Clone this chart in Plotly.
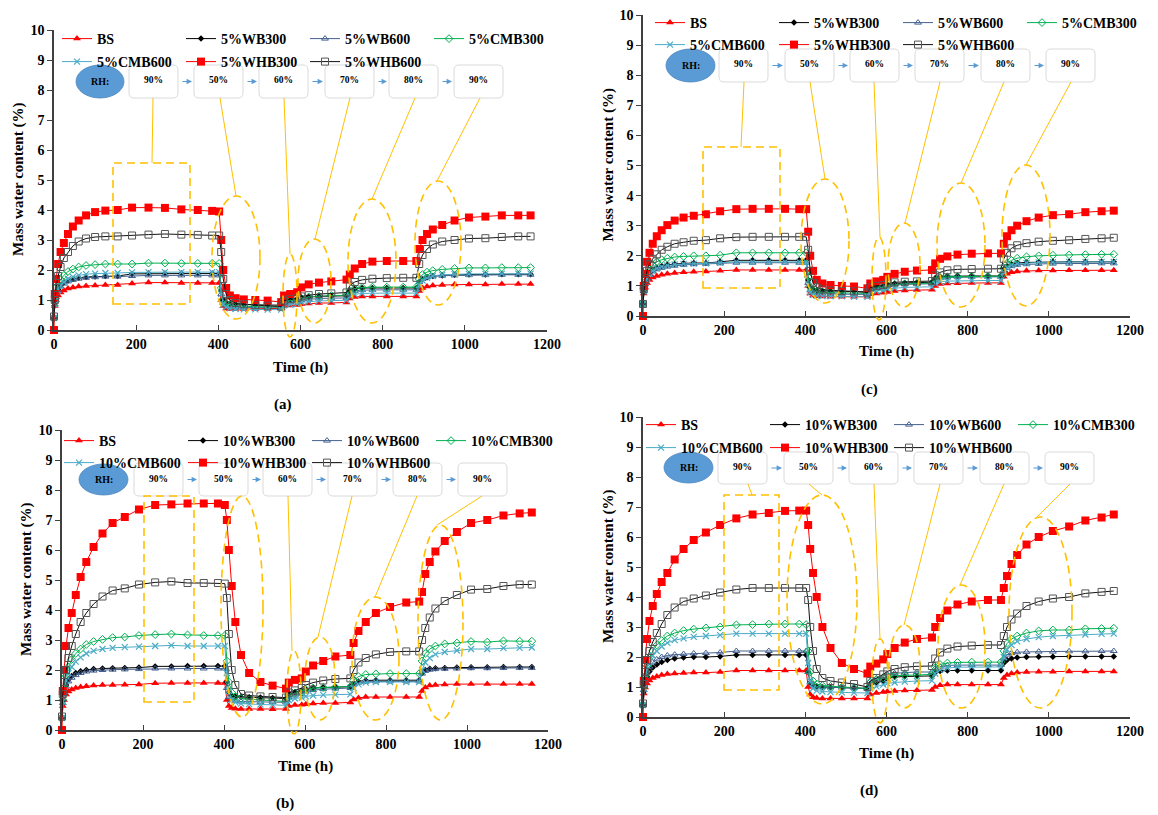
import plotly.graph_objects as go

W, H = 1158, 815

# ---------------- data ----------------
t = [0, 2, 5, 10, 16, 24, 34, 46, 60, 78, 100, 125, 155, 190, 230, 270, 310, 350, 385, 402,
     407, 412, 419, 428, 442, 462, 490, 520, 553,
     560, 575, 592,
     602, 620, 645, 675, 712,
     720, 732, 750, 775, 810, 850, 882,
     889, 897, 908, 922, 945, 975, 1010, 1050, 1090, 1130, 1160]

# panel (a) 5%
a_BS = [0.4, 0.8, 1.0, 1.15, 1.25, 1.32, 1.38, 1.42, 1.45, 1.47, 1.48, 1.5, 1.5, 1.55, 1.58, 1.58, 1.57, 1.57, 1.57, 1.57,
        1.0, 0.8, 0.72, 0.7, 0.7, 0.7, 0.7, 0.7, 0.72,
        0.8, 0.82, 0.83,
        0.86, 0.88, 0.9, 0.9, 0.92,
        1.05, 1.1, 1.12, 1.12, 1.12, 1.12, 1.12,
        1.3, 1.4, 1.45, 1.48, 1.5, 1.52, 1.52, 1.52, 1.53, 1.53, 1.53]
a_WB300 = [0.4, 0.9, 1.15, 1.35, 1.48, 1.58, 1.65, 1.7, 1.74, 1.77, 1.78, 1.8, 1.8, 1.87, 1.88, 1.88, 1.88, 1.88, 1.88, 1.88,
           1.3, 1.0, 0.92, 0.88, 0.86, 0.85, 0.84, 0.83, 0.83,
           1.0, 1.02, 1.04,
           1.08, 1.1, 1.12, 1.13, 1.14,
           1.3, 1.37, 1.4, 1.4, 1.4, 1.4, 1.4,
           1.6, 1.7, 1.76, 1.8, 1.82, 1.84, 1.85, 1.85, 1.86, 1.86, 1.86]
a_WB600 = [0.4, 0.85, 1.1, 1.3, 1.45, 1.55, 1.62, 1.67, 1.71, 1.74, 1.76, 1.78, 1.78, 1.8, 1.82, 1.82, 1.82, 1.82, 1.82, 1.82,
           1.2, 0.9, 0.82, 0.78, 0.76, 0.75, 0.74, 0.74, 0.74,
           0.9, 0.93, 0.95,
           1.0, 1.03, 1.05, 1.06, 1.07,
           1.22, 1.3, 1.33, 1.34, 1.34, 1.34, 1.34,
           1.6, 1.7, 1.76, 1.79, 1.81, 1.82, 1.83, 1.83, 1.84, 1.84, 1.84]
a_CMB300 = [0.4, 0.95, 1.25, 1.5, 1.68, 1.82, 1.95, 2.03, 2.1, 2.15, 2.18, 2.2, 2.2, 2.2, 2.23, 2.23, 2.22, 2.22, 2.22, 2.22,
            1.4, 1.0, 0.88, 0.83, 0.8, 0.79, 0.78, 0.77, 0.77,
            0.95, 0.98, 1.0,
            1.06, 1.1, 1.13, 1.15, 1.16,
            1.3, 1.38, 1.42, 1.43, 1.43, 1.43, 1.43,
            1.7, 1.85, 1.93, 1.98, 2.02, 2.05, 2.07, 2.07, 2.08, 2.08, 2.08]
a_CMB600 = [0.4, 0.85, 1.1, 1.32, 1.48, 1.6, 1.7, 1.77, 1.82, 1.86, 1.88, 1.9, 1.9, 1.92, 1.93, 1.93, 1.93, 1.93, 1.93, 1.93,
            1.2, 0.85, 0.76, 0.72, 0.7, 0.69, 0.69, 0.68, 0.68,
            0.82, 0.85, 0.87,
            0.92, 0.95, 0.97, 0.98, 0.99,
            1.12, 1.19, 1.22, 1.23, 1.23, 1.23, 1.23,
            1.5, 1.65, 1.74, 1.8, 1.84, 1.86, 1.87, 1.87, 1.88, 1.88, 1.88]
a_WHB300 = [0.0, 1.2, 1.7, 2.2, 2.6, 2.9, 3.2, 3.45, 3.65, 3.82, 3.93, 3.98, 4.0, 4.08, 4.08, 4.07, 4.02, 4.0, 3.97, 3.95,
            3.0, 2.0, 1.4, 1.15, 1.06, 1.02, 1.0, 0.98, 0.93,
            1.15, 1.2, 1.26,
            1.42, 1.52, 1.58, 1.62, 1.68,
            1.85, 2.05, 2.2, 2.28, 2.3, 2.3, 2.3,
            2.7, 3.0, 3.2, 3.35, 3.5, 3.65, 3.75, 3.78, 3.82, 3.82, 3.82]
a_WHB600 = [0.45, 1.0, 1.4, 1.8, 2.1, 2.4, 2.6, 2.8, 2.95, 3.05, 3.1, 3.12, 3.12, 3.15, 3.18, 3.2, 3.18, 3.17, 3.15, 3.15,
            2.6, 1.7, 1.2, 1.0, 0.9, 0.86, 0.83, 0.81, 0.78,
            0.98, 1.03, 1.06,
            1.12, 1.16, 1.2, 1.22, 1.25,
            1.48, 1.6, 1.67, 1.71, 1.73, 1.74, 1.74,
            2.2, 2.5, 2.7, 2.85, 2.95, 3.0, 3.05, 3.06, 3.1, 3.12, 3.12]

# panel (c) 5%
c_BS = [0.4, 0.75, 0.95, 1.1, 1.2, 1.28, 1.33, 1.37, 1.4, 1.43, 1.45, 1.47, 1.48, 1.5, 1.53, 1.53, 1.53, 1.53, 1.53, 1.53,
        1.0, 0.75, 0.68, 0.66, 0.65, 0.64, 0.64, 0.64, 0.64,
        0.72, 0.75, 0.77,
        0.8, 0.83, 0.85, 0.86, 0.87,
        1.0, 1.06, 1.08, 1.09, 1.1, 1.1, 1.1,
        1.3, 1.4, 1.45, 1.48, 1.5, 1.51, 1.51, 1.52, 1.52, 1.52, 1.52]
c_WB300 = [0.4, 0.85, 1.1, 1.3, 1.43, 1.53, 1.6, 1.66, 1.7, 1.73, 1.75, 1.76, 1.76, 1.8, 1.85, 1.85, 1.85, 1.85, 1.85, 1.85,
           1.2, 0.95, 0.88, 0.85, 0.84, 0.83, 0.82, 0.82, 0.8,
           0.95, 0.98, 1.0,
           1.05, 1.08, 1.1, 1.11, 1.12,
           1.25, 1.3, 1.32, 1.33, 1.33, 1.33, 1.33,
           1.55, 1.65, 1.72, 1.76, 1.78, 1.79, 1.8, 1.8, 1.8, 1.8, 1.8]
c_WB600 = [0.4, 0.82, 1.05, 1.25, 1.38, 1.48, 1.55, 1.6, 1.64, 1.67, 1.7, 1.72, 1.73, 1.75, 1.77, 1.77, 1.77, 1.77, 1.77, 1.77,
           1.1, 0.85, 0.78, 0.75, 0.74, 0.73, 0.72, 0.72, 0.72,
           0.88, 0.9, 0.92,
           0.98, 1.02, 1.05, 1.06, 1.07,
           1.2, 1.26, 1.28, 1.29, 1.3, 1.3, 1.3,
           1.5, 1.6, 1.66, 1.7, 1.72, 1.73, 1.74, 1.74, 1.75, 1.75, 1.75]
c_CMB300 = [0.4, 0.9, 1.2, 1.42, 1.58, 1.7, 1.8, 1.87, 1.92, 1.96, 1.98, 2.0, 2.0, 2.02, 2.1, 2.1, 2.1, 2.1, 2.1, 2.1,
            1.3, 0.95, 0.85, 0.8, 0.78, 0.77, 0.76, 0.76, 0.75,
            0.9, 0.93, 0.95,
            1.0, 1.04, 1.07, 1.08, 1.09,
            1.22, 1.28, 1.3, 1.31, 1.32, 1.32, 1.32,
            1.6, 1.75, 1.85, 1.92, 1.97, 2.0, 2.02, 2.03, 2.04, 2.05, 2.05]
c_CMB600 = [0.4, 0.82, 1.05, 1.25, 1.4, 1.5, 1.58, 1.64, 1.68, 1.71, 1.73, 1.74, 1.75, 1.77, 1.8, 1.8, 1.8, 1.8, 1.8, 1.8,
            1.05, 0.78, 0.7, 0.67, 0.66, 0.65, 0.65, 0.64, 0.64,
            0.8, 0.83, 0.85,
            0.9, 0.93, 0.95, 0.96, 0.97,
            1.08, 1.14, 1.16, 1.17, 1.18, 1.18, 1.18,
            1.45, 1.6, 1.68, 1.73, 1.76, 1.78, 1.79, 1.8, 1.8, 1.8, 1.8]
c_WHB300 = [0.0, 1.0, 1.4, 1.8, 2.1, 2.4, 2.65, 2.85, 3.02, 3.17, 3.27, 3.33, 3.38, 3.48, 3.55, 3.56, 3.56, 3.56, 3.55, 3.55,
            2.8, 2.0, 1.5, 1.2, 1.08, 1.03, 1.0, 0.98, 0.92,
            1.08, 1.15, 1.2,
            1.3, 1.4, 1.47, 1.51, 1.53,
            1.75, 1.9, 1.98, 2.04, 2.07, 2.08, 2.08,
            2.4, 2.65, 2.85, 3.0, 3.15, 3.27, 3.35, 3.38, 3.45, 3.48, 3.5]
c_WHB600 = [0.4, 0.9, 1.2, 1.5, 1.72, 1.9, 2.05, 2.2, 2.3, 2.4, 2.45, 2.5, 2.52, 2.58, 2.62, 2.63, 2.63, 2.63, 2.63, 2.63,
            2.2, 1.5, 1.1, 0.95, 0.88, 0.85, 0.83, 0.82, 0.78,
            0.95, 1.0, 1.03,
            1.08, 1.12, 1.14, 1.15, 1.16,
            1.35, 1.45, 1.52, 1.55, 1.56, 1.57, 1.57,
            1.9, 2.1, 2.25, 2.35, 2.42, 2.47, 2.5, 2.52, 2.56, 2.58, 2.6]

# panel (b) 10%
b_BS = [0.4, 0.8, 1.0, 1.18, 1.28, 1.35, 1.4, 1.43, 1.46, 1.48, 1.5, 1.5, 1.51, 1.52, 1.56, 1.57, 1.57, 1.57, 1.57, 1.57,
        1.0, 0.8, 0.73, 0.71, 0.7, 0.7, 0.7, 0.69, 0.7,
        0.8, 0.83, 0.84,
        0.86, 0.88, 0.9, 0.9, 0.92,
        1.02, 1.07, 1.1, 1.1, 1.1, 1.1, 1.1,
        1.3, 1.42, 1.48, 1.5, 1.52, 1.53, 1.53, 1.53, 1.53, 1.53, 1.53]
b_WB300 = [0.4, 0.95, 1.25, 1.5, 1.68, 1.8, 1.9, 1.96, 2.0, 2.03, 2.05, 2.06, 2.07, 2.08, 2.12, 2.12, 2.13, 2.13, 2.13, 2.13,
           1.6, 1.25, 1.15, 1.12, 1.1, 1.09, 1.08, 1.07, 1.05,
           1.22, 1.27, 1.3,
           1.36, 1.4, 1.42, 1.43, 1.44,
           1.55, 1.62, 1.65, 1.66, 1.66, 1.66, 1.66,
           1.9, 2.0, 2.04, 2.06, 2.07, 2.08, 2.09, 2.09, 2.1, 2.1, 2.1]
b_WB600 = [0.4, 0.9, 1.2, 1.45, 1.62, 1.74, 1.83, 1.9, 1.95, 1.98, 2.0, 2.01, 2.02, 2.03, 2.05, 2.05, 2.05, 2.05, 2.05, 2.05,
           1.4, 1.1, 1.0, 0.97, 0.95, 0.94, 0.93, 0.93, 0.92,
           1.1, 1.15, 1.2,
           1.28, 1.33, 1.36, 1.38, 1.4,
           1.52, 1.58, 1.61, 1.62, 1.62, 1.62, 1.62,
           1.88, 1.97, 2.01, 2.03, 2.04, 2.05, 2.06, 2.06, 2.07, 2.07, 2.07]
b_CMB300 = [0.4, 1.0, 1.4, 1.8, 2.1, 2.35, 2.55, 2.7, 2.85, 2.95, 3.02, 3.08, 3.1, 3.15, 3.18, 3.2, 3.17, 3.15, 3.15, 3.15,
            2.3, 1.6, 1.25, 1.12, 1.05, 1.02, 1.0, 0.98, 0.95,
            1.15, 1.22, 1.28,
            1.35, 1.4, 1.42, 1.43, 1.45,
            1.65, 1.78, 1.85, 1.87, 1.88, 1.88, 1.88,
            2.3, 2.55, 2.7, 2.8, 2.87, 2.9, 2.95, 2.93, 2.97, 2.96, 2.96]
b_CMB600 = [0.4, 0.95, 1.3, 1.65, 1.9, 2.1, 2.28, 2.42, 2.55, 2.64, 2.7, 2.74, 2.76, 2.78, 2.8, 2.82, 2.8, 2.8, 2.8, 2.8,
            1.9, 1.3, 1.0, 0.92, 0.88, 0.86, 0.85, 0.84, 0.82,
            1.0, 1.05, 1.08,
            1.12, 1.15, 1.17, 1.18, 1.19,
            1.4, 1.52, 1.58, 1.6, 1.6, 1.6, 1.6,
            2.0, 2.25, 2.4, 2.52, 2.6, 2.65, 2.7, 2.7, 2.73, 2.74, 2.75]
b_WHB300 = [0.0, 1.3, 2.0, 2.8, 3.4, 3.9, 4.5, 5.1, 5.6, 6.1, 6.55, 6.9, 7.1, 7.35, 7.5, 7.52, 7.55, 7.55, 7.55, 7.5,
            7.0, 6.0, 4.8, 3.6, 2.5, 1.9, 1.6, 1.48, 1.38,
            1.58, 1.67, 1.72,
            1.95, 2.15, 2.3, 2.45, 2.5,
            2.9, 3.3, 3.6, 3.9, 4.1, 4.25, 4.28,
            4.6, 5.2, 5.6, 5.95, 6.3, 6.6, 6.9, 7.0, 7.15, 7.22, 7.25]
b_WHB600 = [0.45, 1.2, 1.6, 2.0, 2.4, 2.8, 3.2, 3.6, 3.9, 4.2, 4.45, 4.65, 4.72, 4.85, 4.92, 4.95, 4.9, 4.9, 4.9, 4.88,
            4.4, 3.2, 2.0, 1.5, 1.2, 1.15, 1.12, 1.1, 1.08,
            1.25, 1.32, 1.4,
            1.5, 1.58, 1.65, 1.7, 1.72,
            2.0, 2.25, 2.4, 2.52, 2.6, 2.62, 2.62,
            3.0, 3.4, 3.75, 4.05, 4.3, 4.5, 4.68, 4.7, 4.8, 4.85, 4.85]

# panel (d) 10%
d_BS = [0.4, 0.78, 0.98, 1.12, 1.22, 1.3, 1.35, 1.4, 1.43, 1.45, 1.47, 1.48, 1.48, 1.5, 1.55, 1.55, 1.55, 1.55, 1.55, 1.55,
        1.0, 0.75, 0.66, 0.63, 0.62, 0.62, 0.62, 0.62, 0.62,
        0.75, 0.8, 0.83,
        0.85, 0.87, 0.88, 0.89, 0.9,
        1.0, 1.06, 1.08, 1.08, 1.08, 1.08, 1.08,
        1.3, 1.4, 1.45, 1.48, 1.5, 1.51, 1.51, 1.52, 1.52, 1.52, 1.52]
d_WB300 = [0.4, 0.85, 1.1, 1.35, 1.52, 1.65, 1.75, 1.83, 1.9, 1.95, 1.98, 2.0, 2.0, 2.02, 2.07, 2.07, 2.07, 2.07, 2.07, 2.07,
           1.5, 1.15, 1.05, 1.02, 1.0, 0.99, 0.98, 0.97, 0.95,
           1.1, 1.15, 1.2,
           1.28, 1.33, 1.35, 1.36, 1.37,
           1.48, 1.53, 1.55, 1.55, 1.55, 1.55, 1.55,
           1.8, 1.9, 1.95, 1.98, 2.0, 2.01, 2.01, 2.02, 2.02, 2.02, 2.02]
d_WB600 = [0.4, 0.9, 1.2, 1.48, 1.68, 1.82, 1.92, 2.0, 2.05, 2.08, 2.1, 2.12, 2.13, 2.15, 2.2, 2.2, 2.2, 2.2, 2.2, 2.2,
           1.5, 1.15, 1.05, 1.02, 1.0, 0.99, 0.98, 0.97, 0.95,
           1.2, 1.28, 1.35,
           1.42, 1.46, 1.48, 1.5, 1.5,
           1.62, 1.68, 1.72, 1.73, 1.73, 1.73, 1.73,
           1.95, 2.08, 2.13, 2.16, 2.17, 2.18, 2.18, 2.19, 2.19, 2.2, 2.2]
d_CMB300 = [0.4, 1.0, 1.35, 1.7, 1.98, 2.2, 2.4, 2.55, 2.7, 2.8, 2.88, 2.93, 2.97, 3.0, 3.07, 3.08, 3.1, 3.1, 3.1, 3.08,
            2.2, 1.5, 1.2, 1.1, 1.05, 1.02, 1.0, 0.98, 0.95,
            1.15, 1.25, 1.3,
            1.35, 1.38, 1.4, 1.4, 1.42,
            1.65, 1.75, 1.8, 1.82, 1.83, 1.83, 1.83,
            2.2, 2.45, 2.6, 2.7, 2.8, 2.87, 2.9, 2.9, 2.94, 2.95, 2.96]
d_CMB600 = [0.4, 0.95, 1.28, 1.6, 1.85, 2.05, 2.2, 2.35, 2.47, 2.56, 2.62, 2.67, 2.7, 2.73, 2.78, 2.78, 2.78, 2.78, 2.78, 2.78,
            1.8, 1.2, 0.95, 0.88, 0.85, 0.83, 0.82, 0.81, 0.8,
            0.95, 1.02, 1.08,
            1.12, 1.15, 1.18, 1.2, 1.21,
            1.45, 1.57, 1.63, 1.66, 1.67, 1.67, 1.67,
            2.0, 2.25, 2.4, 2.52, 2.6, 2.66, 2.7, 2.72, 2.75, 2.77, 2.78]
d_WHB300 = [0.0, 1.2, 1.9, 2.6, 3.2, 3.7, 4.1, 4.5, 4.8, 5.25, 5.6, 5.9, 6.15, 6.4, 6.62, 6.75, 6.8, 6.87, 6.88, 6.88,
            6.4, 5.6, 4.8, 4.0, 3.0, 2.3, 1.8, 1.6, 1.45,
            1.68, 1.78, 1.92,
            2.1, 2.3, 2.48, 2.6, 2.65,
            3.0, 3.3, 3.55, 3.75, 3.85, 3.9, 3.9,
            4.3, 4.7, 5.1, 5.4, 5.75, 6.0, 6.2, 6.35, 6.55, 6.65, 6.75]
d_WHB600 = [0.45, 1.1, 1.5, 1.9, 2.2, 2.5, 2.8, 3.1, 3.4, 3.65, 3.85, 3.95, 4.05, 4.15, 4.25, 4.3, 4.3, 4.3, 4.3, 4.3,
            3.9, 3.0, 2.2, 1.6, 1.3, 1.2, 1.15, 1.1, 1.0,
            1.2, 1.3, 1.42,
            1.52, 1.6, 1.66, 1.69, 1.7,
            1.95, 2.15, 2.28, 2.35, 2.38, 2.4, 2.4,
            2.7, 3.0, 3.25, 3.45, 3.7, 3.85, 3.95, 4.0, 4.12, 4.17, 4.2]

series_names = ["BS", "WB300", "WB600", "CMB300", "CMB600", "WHB300", "WHB600"]
rh_labels = ["90%", "50%", "60%", "70%", "80%", "90%"]
x_ticks = [0, 200, 400, 600, 800, 1000, 1200]
y_ticks = [0, 1, 2, 3, 4, 5, 6, 7, 8, 9, 10]

# ---------------- styles ----------------
FONT = "Liberation Serif"
styles = {
    "BS": dict(line=dict(color="#FF0000", width=1), marker=dict(symbol="triangle-up", size=7, color="#FF0000")),
    "WB300": dict(line=dict(color="#000000", width=1), marker=dict(symbol="diamond", size=5, color="#000000")),
    "WB600": dict(line=dict(color="#44608F", width=1),
                  marker=dict(symbol="triangle-up-open", size=6, color="#44608F", line=dict(width=1))),
    "CMB300": dict(line=dict(color="#00B050", width=1),
                   marker=dict(symbol="diamond-open", size=6, color="#00B050", line=dict(width=1))),
    "CMB600": dict(line=dict(color="#4BACC6", width=1),
                   marker=dict(symbol="x-thin-open", size=6, color="#4BACC6", line=dict(width=1.2, color="#4BACC6"))),
    "WHB300": dict(line=dict(color="#FF0000", width=1), marker=dict(symbol="square", size=8, color="#FF0000")),
    "WHB600": dict(line=dict(color="#111111", width=1),
                   marker=dict(symbol="square-open", size=7, color="#555555", line=dict(width=1))),
}

def PX(p):
    return p / W

def PY(p):
    return 1 - p / H

panels = [
    dict(tag="(a)", pre="5%", data=[a_BS, a_WB300, a_WB600, a_CMB300, a_CMB600, a_WHB300, a_WHB600],
         xd=(54, 547), yd=(30, 330), leg_text_x=97, rows=(33, 56),
         ell=(76, 65, 124, 98), boxes=[129, 194, 259, 325, 389, 454], box_y=(65, 98),
         rect=(113, 163, 190, 304),
         ellipses=[(212, 196, 260, 319), (283, 254, 297, 337), (298, 239, 331, 323),
                   (348, 199, 396, 323), (415, 181, 461, 305)],
         lines=[(153, 98, 152, 163), (220, 98, 236, 196), (284, 98, 290, 254),
                (350, 98, 315, 239), (415, 98, 372, 199), (480, 98, 437, 181)],
         label=(283, 404), xtitle=(300, 367), ytitle_x=18),
    dict(tag="(c)", pre="5%", data=[c_BS, c_WB300, c_WB600, c_CMB300, c_CMB600, c_WHB300, c_WHB600],
         xd=(643, 1130), yd=(15, 316), leg_text_x=690, rows=(17, 39),
         ell=(666, 49, 715, 82), boxes=[719, 785, 850, 915, 981, 1046], box_y=(49, 82),
         rect=(703, 147, 780, 288),
         ellipses=[(801, 179, 849, 303), (872, 237, 886, 320), (888, 223, 920, 307),
                   (937, 183, 985, 307), (1002, 165, 1050, 306)],
         lines=[(744, 82, 741, 147), (810, 82, 825, 179), (874, 82, 880, 237),
                (940, 82, 905, 223), (1004, 82, 961, 183), (1071, 82, 1026, 165)],
         label=(869, 389), xtitle=(886, 352), ytitle_x=608),
    dict(tag="(b)", pre="10%", data=[b_BS, b_WB300, b_WB600, b_CMB300, b_CMB600, b_WHB300, b_WHB600],
         xd=(62, 548), yd=(430, 730), leg_text_x=99, rows=(435, 457),
         ell=(79, 464, 128, 495), boxes=[134, 199, 263, 328, 393, 458], box_y=(463, 496),
         rect=(144, 496, 194, 702),
         ellipses=[(221, 496, 263, 717), (287, 651, 301, 734), (305, 637, 335, 720),
                   (352, 597, 399, 720), (418, 525, 463, 720)],
         lines=[(288, 496, 292, 651), (352, 496, 318, 637), (417, 496, 375, 597), (482, 496, 437, 525)],
         label=(285, 803), xtitle=(305, 766), ytitle_x=26),
    dict(tag="(d)", pre="10%", data=[d_BS, d_WB300, d_WB600, d_CMB300, d_CMB600, d_WHB300, d_WHB600],
         xd=(643, 1130), yd=(417, 717), leg_text_x=681, rows=(419, 442),
         ell=(664, 452, 713, 483), boxes=[718, 784, 849, 914, 980, 1045], box_y=(452, 484),
         rect=(724, 495, 779, 690),
         ellipses=[(787, 495, 857, 704), (872, 639, 888, 723), (889, 625, 920, 708),
                   (938, 585, 985, 708), (1009, 517, 1072, 708)],
         lines=[(748, 484, 752, 495), (809, 484, 822, 495), (874, 484, 880, 639),
                (940, 484, 904, 625), (1004, 484, 960, 585), (1070, 484, 1037, 517)],
         label=(869, 790), xtitle=(886, 753), ytitle_x=608),
]

fig = go.Figure()
shapes = []
annotations = []
layout = dict(width=W, height=H, margin=dict(l=0, r=0, t=0, b=0, autoexpand=False),
              paper_bgcolor="white", plot_bgcolor="white", showlegend=True)

YEL = "#FFC000"
BLUE = "#5B9BD5"
leg_idx = 0


def rounded_rect(x0, y0, x1, y1, r=5):
    def P(x, y):
        return f"{PX(x):.5f},{PY(y):.5f}"
    return (f"M{P(x0 + r, y0)} L{P(x1 - r, y0)} Q{P(x1, y0)} {P(x1, y0 + r)} "
            f"L{P(x1, y1 - r)} Q{P(x1, y1)} {P(x1 - r, y1)} L{P(x0 + r, y1)} "
            f"Q{P(x0, y1)} {P(x0, y1 - r)} L{P(x0, y0 + r)} Q{P(x0, y0)} {P(x0 + r, y0)} Z")


def text_ann(x, y, text, size, angle=0):
    return dict(x=PX(x), y=PY(y), xref="paper", yref="paper", text=text, showarrow=False,
                xanchor="center", yanchor="middle", textangle=angle,
                font=dict(family=FONT, size=size, color="black", weight="bold"))


for i, p in enumerate(panels):
    n = i + 1
    xa = "xaxis" if n == 1 else f"xaxis{n}"
    ya = "yaxis" if n == 1 else f"yaxis{n}"
    xr = "x" if n == 1 else f"x{n}"
    yr = "y" if n == 1 else f"y{n}"
    layout[xa] = dict(domain=[PX(p["xd"][0]), PX(p["xd"][1])], range=[0, 1200], anchor=yr,
                      tickvals=x_ticks, ticks="inside", ticklen=5, tickcolor="#404040",
                      showline=True, linecolor="#404040", linewidth=1.5, showgrid=False, zeroline=False,
                      tickfont=dict(family=FONT, size=14, color="black", weight="bold"))
    layout[ya] = dict(domain=[PY(p["yd"][1]), PY(p["yd"][0])], range=[0, 10], anchor=xr,
                      tickvals=y_ticks, ticks="outside", ticklen=5, tickcolor="#404040",
                      showline=True, linecolor="#404040", linewidth=1.5, showgrid=False, zeroline=False,
                      tickfont=dict(family=FONT, size=14, color="black", weight="bold"))

    # two legends per panel (row 1: 4 items, row 2: 3 items)
    leg_names = []
    for r, ry in enumerate(p["rows"]):
        leg_idx += 1
        ln = "legend" if leg_idx == 1 else f"legend{leg_idx}"
        leg_names.append(ln)
        layout[ln] = dict(x=PX(p["leg_text_x"] - 40), y=PY(ry - 10), xanchor="left", yanchor="top",
                          orientation="h", entrywidth=79, entrywidthmode="pixels",
                          itemwidth=30, bgcolor="rgba(0,0,0,0)", borderwidth=0,
                          font=dict(family=FONT, size=14, color="black", weight="bold"),
                          traceorder="normal", tracegroupgap=0)

    for k, name in enumerate(series_names):
        label = name if name == "BS" else p["pre"] + name
        st = styles[name]
        fig.add_trace(go.Scatter(x=t, y=p["data"][k], mode="lines+markers", name=label,
                                 line=st["line"], marker=st["marker"], xaxis=xr, yaxis=yr,
                                 cliponaxis=False, legend=leg_names[0] if k < 4 else leg_names[1]))

    # axis titles and panel label
    annotations.append(text_ann(p["xtitle"][0], p["xtitle"][1], "Time (h)", 15))
    annotations.append(text_ann(p["ytitle_x"], (p["yd"][0] + p["yd"][1]) / 2, "Mass water content (%)", 15, -90))
    annotations.append(text_ann(p["label"][0], p["label"][1], p["tag"], 15))

    # RH ellipse
    ex0, ey0, ex1, ey1 = p["ell"]
    shapes.append(dict(type="circle", xref="paper", yref="paper", x0=PX(ex0), x1=PX(ex1), y0=PY(ey1), y1=PY(ey0),
                       fillcolor=BLUE, line=dict(color="#4A86C0", width=0.8), layer="above"))
    annotations.append(text_ann((ex0 + ex1) / 2, (ey0 + ey1) / 2, "RH:", 10))
    by0, by1 = p["box_y"]
    bw = 49
    for j, bx in enumerate(p["boxes"]):
        shapes.append(dict(type="path", xref="paper", yref="paper", path=rounded_rect(bx, by0, bx + bw, by1),
                           fillcolor="white", line=dict(color="#DADADA", width=1), layer="above"))
        annotations.append(text_ann(bx + bw / 2, (by0 + by1) / 2 - 1, rh_labels[j], 9.5))
        if j < len(p["boxes"]) - 1:
            nxt = p["boxes"][j + 1]
            start = bx + bw + 3
            end = nxt - 2
            annotations.append(dict(x=PX(end), y=PY((by0 + by1) / 2), xref="paper", yref="paper",
                                    ax=-(end - start), ay=0, text="", showarrow=True, arrowhead=2,
                                    arrowsize=0.9, arrowwidth=1.2, arrowcolor=BLUE))
    # dashed highlights
    rx0, ry0, rx1, ry1 = p["rect"]
    dash = dict(color=YEL, width=1.6, dash="8px,5px")
    shapes.append(dict(type="rect", xref="paper", yref="paper", x0=PX(rx0), x1=PX(rx1), y0=PY(ry1), y1=PY(ry0),
                       line=dash, layer="above"))
    for (qx0, qy0, qx1, qy1) in p["ellipses"]:
        shapes.append(dict(type="circle", xref="paper", yref="paper", x0=PX(qx0), x1=PX(qx1),
                           y0=PY(qy1), y1=PY(qy0), line=dash, layer="above"))
    for (lx0, ly0, lx1, ly1) in p["lines"]:
        shapes.append(dict(type="line", xref="paper", yref="paper", x0=PX(lx0), y0=PY(ly0), x1=PX(lx1), y1=PY(ly1),
                           line=dict(color=YEL, width=1), layer="above"))

layout["shapes"] = shapes
layout["annotations"] = annotations
fig.update_layout(**layout)
fig.write_html("out.html")
